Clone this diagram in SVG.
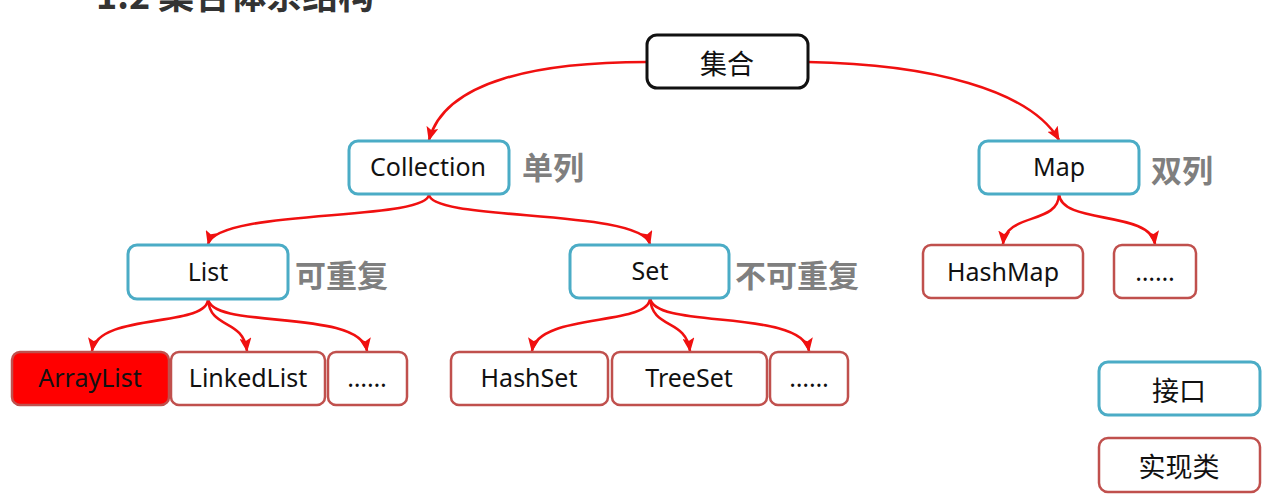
<svg xmlns="http://www.w3.org/2000/svg" width="1284" height="500" viewBox="0 0 1284 500">
<defs>
<style>
.bg{fill:#ffffff}
.iface{fill:#ffffff;stroke:#4bacc6;stroke-width:3}
.impl{fill:#ffffff;stroke:#c0504d;stroke-width:2.5}
.implred{fill:#ff0000;stroke:#c0504d;stroke-width:2.5}
.root{fill:#ffffff;stroke:#111111;stroke-width:3}
.lbl{font-family:"Noto Sans","Open Sans","Noto Sans CJK SC",sans-serif;font-size:25px;fill:#111111;text-anchor:middle;dominant-baseline:central}
.cjk{font-family:"Noto Sans CJK SC",sans-serif;font-size:27px;fill:#111111;text-anchor:middle;dominant-baseline:central}
.note{font-family:"Noto Sans CJK SC",sans-serif;font-size:31px;font-weight:bold;fill:#7f7f7f;dominant-baseline:central}
.title{font-family:"Noto Sans CJK SC",sans-serif;font-size:36px;font-weight:bold;fill:#333333}
.conn{fill:none;stroke:#f01010;stroke-width:2.6;marker-end:url(#arr)}
</style>
<marker id="arr" markerUnits="userSpaceOnUse" markerWidth="14" markerHeight="12" refX="13" refY="6" orient="auto">
<path d="M0,0 L14,6 L0,12 L3,6 z" fill="#f01010"/>
</marker>
</defs>
<rect class="bg" x="0" y="0" width="1284" height="500"/>
<text class="title" x="96" y="9">1.2 集合体系结构</text>

<g id="connectors">
<path class="conn" d="M647,62 C540,62 445,80 429,140"/>
<path class="conn" d="M808,62 C930,64 1030,90 1059,140"/>
<path class="conn" d="M429,194 C429,222 218,208 208,244"/>
<path class="conn" d="M429,194 C429,222 640,208 650,244"/>
<path class="conn" d="M208,299 C208,328 98,312 92,351"/>
<path class="conn" d="M208,299 C210,330 243,318 247,351"/>
<path class="conn" d="M208,299 C212,330 360,308 367,351"/>
<path class="conn" d="M650,298 C650,327 538,312 532,351"/>
<path class="conn" d="M650,298 C652,330 686,318 690,351"/>
<path class="conn" d="M650,298 C654,330 802,308 809,351"/>
<path class="conn" d="M1059,194 C1059,225 1006,212 1003,244"/>
<path class="conn" d="M1059,194 C1061,225 1150,210 1155,244"/>
</g>

<g id="n-jihe"><rect class="root" x="647" y="35" width="161" height="53" rx="10"/><text class="cjk" x="727" y="62">集合</text></g>
<g id="n-collection"><rect class="iface" x="349" y="141" width="160" height="53" rx="9"/><text class="lbl" x="428" y="166">Collection</text></g>
<text id="t-danlie" class="note" x="522" y="165">单列</text>
<g id="n-map"><rect class="iface" x="979" y="141" width="160" height="53" rx="9"/><text class="lbl" x="1059" y="166">Map</text></g>
<text id="t-shuanglie" class="note" x="1151" y="168">双列</text>
<g id="n-list"><rect class="iface" x="128" y="245" width="160" height="54" rx="9"/><text class="lbl" x="208" y="271">List</text></g>
<text id="t-kechongfu" class="note" x="295" y="273">可重复</text>
<g id="n-set"><rect class="iface" x="570" y="245" width="159" height="53" rx="9"/><text class="lbl" x="650" y="270">Set</text></g>
<text id="t-bukechongfu" class="note" x="735" y="273">不可重复</text>
<g id="n-hashmap"><rect class="impl" x="923" y="245" width="160" height="53" rx="8"/><text class="lbl" x="1003" y="271">HashMap</text></g>
<g id="n-mapmore"><rect class="impl" x="1114" y="245" width="82" height="53" rx="8"/><text class="lbl" x="1155" y="271">……</text></g>
<g id="n-arraylist"><rect class="implred" x="12" y="352" width="157" height="53" rx="8"/><text class="lbl" x="90" y="377">ArrayList</text></g>
<g id="n-linkedlist"><rect class="impl" x="171" y="352" width="154" height="53" rx="8"/><text class="lbl" x="248" y="377">LinkedList</text></g>
<g id="n-listmore"><rect class="impl" x="328" y="352" width="79" height="53" rx="8"/><text class="lbl" x="367" y="377">……</text></g>
<g id="n-hashset"><rect class="impl" x="451" y="352" width="157" height="53" rx="8"/><text class="lbl" x="529" y="377">HashSet</text></g>
<g id="n-treeset"><rect class="impl" x="612" y="352" width="155" height="53" rx="8"/><text class="lbl" x="689" y="377">TreeSet</text></g>
<g id="n-setmore"><rect class="impl" x="770" y="352" width="78" height="53" rx="8"/><text class="lbl" x="809" y="377">……</text></g>
<g id="legend-iface"><rect class="iface" x="1099" y="362" width="161" height="53" rx="9"/><text class="cjk" x="1179" y="389">接口</text></g>
<g id="legend-impl"><rect class="impl" x="1099" y="438" width="161" height="54" rx="9"/><text class="cjk" x="1179" y="465">实现类</text></g>
</svg>
